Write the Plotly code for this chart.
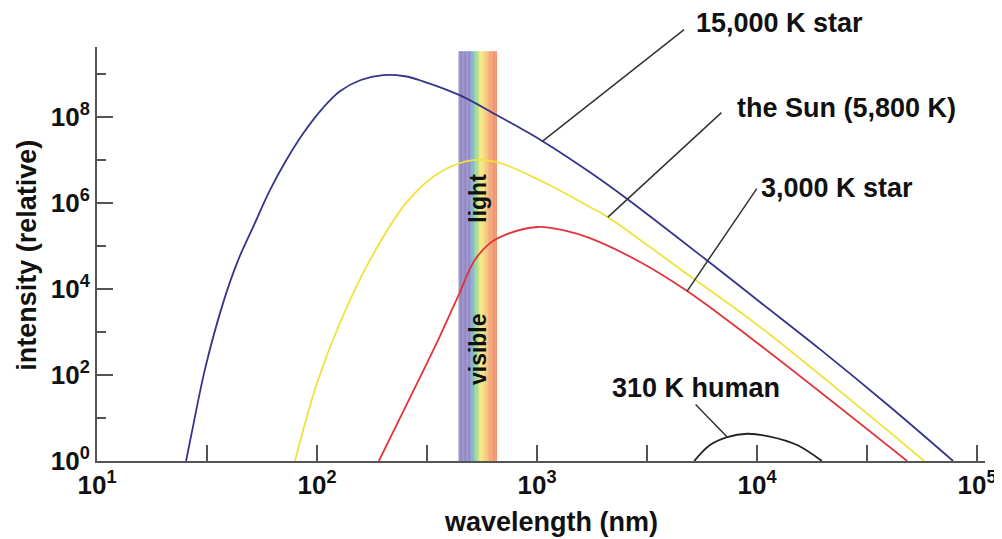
import math
import plotly.graph_objects as go

# ---------------- data ----------------
wl_15000 = [25.4, 27.3, 31, 37.4, 43.8, 51.2, 61.1, 73.1, 86.3, 106, 127, 157, 200, 251, 303, 447, 658,
            1060, 1740, 2560, 5930, 10300, 19300, 39800, 77800]
I_15000 = [1.0, 6.3, 141, 4.7e3, 4.7e4, 2.75e5, 2.0e6, 1.07e7, 4.1e7, 1.6e8, 4.0e8, 7.2e8, 9.5e8, 8.9e8,
           6.8e8, 3.2e8, 1.1e8, 2.75e7, 5.2e6, 1.26e6, 4.6e4, 5.0e3, 400, 19, 1.0]

wl_sun = [79.4, 100, 127, 174, 256, 362, 512, 658, 1030, 1740, 2100, 4950, 10300, 57500]
I_sun = [1.0, 65, 1.62e3, 4.7e4, 1.05e6, 5.2e6, 1.0e7, 8.9e6, 3.4e6, 8.1e5, 4.7e5, 2.0e4, 1.32e3, 1.0]

wl_3000 = [191, 256, 362, 442, 518, 611, 731, 1000, 1370, 1740, 2940, 4810, 10300, 48100]
I_3000 = [1.0, 21, 807, 7.65e3, 4.48e4, 1.17e5, 1.9e5, 2.77e5, 2.23e5, 1.53e5, 4.26e4, 8.97e3, 499, 1.0]

wl_human = [5180, 6110, 7310, 9020, 11450, 15200, 19700]
I_human = [1.0, 2.35, 3.6, 4.3, 3.7, 2.35, 1.0]

series_names = ["15,000 K star", "the Sun (5,800 K)", "3,000 K star", "310 K human"]

x_major_vals = [10, 1e2, 1e3, 1e4, 1e5]
x_major_text = ["<b>10<sup>%d</sup></b>" % p for p in (1, 2, 3, 4, 5)]
x_minor_vals = [10 ** 1.5, 10 ** 2.5, 10 ** 3.5, 10 ** 4.5]
y_major_vals = [1, 1e2, 1e4, 1e6, 1e8]
y_major_text = ["<b>10<sup>%d</sup></b>" % p for p in (0, 2, 4, 6, 8)]
y_minor_vals = [10, 1e3, 1e5, 1e7, 1e9]

band_edges_nm = [440, 658]
band_top = 3.4e9
band_stops = [
    (0.00, (136, 124, 188)),
    (0.26, (138, 128, 194)),
    (0.33, (122, 148, 210)),
    (0.41, (122, 198, 176)),
    (0.49, (166, 218, 124)),
    (0.58, (246, 234, 116)),
    (0.70, (248, 198, 116)),
    (0.84, (242, 152, 100)),
    (1.00, (238, 126, 86)),
]

# ---------------- styling ----------------
FONT = "Liberation Sans"
AX = "#555555"
TXT = "#111111"
colors = ["#34358a", "#f0e23a", "#e2333a", "#222222"]

fig = go.Figure()


def band_color(f):
    for (f0, c0), (f1, c1) in zip(band_stops[:-1], band_stops[1:]):
        if f0 <= f <= f1:
            t = 0 if f1 == f0 else (f - f0) / (f1 - f0)
            return "rgb(%d,%d,%d)" % tuple(round(a + (b - a) * t) for a, b in zip(c0, c1))
    return "rgb(%d,%d,%d)" % band_stops[-1][1]


# visible-light band as thin strips
lo, hi = math.log10(band_edges_nm[0]), math.log10(band_edges_nm[1])
N = 48
for i in range(N):
    a = lo + (hi - lo) * i / N
    b = lo + (hi - lo) * (i + 1) / N + (0.0005 if i < N - 1 else 0)
    fig.add_shape(type="rect", xref="x", yref="y", x0=10 ** a, x1=10 ** b, y0=1, y1=band_top,
                  fillcolor=band_color((i + 0.5) / N), line=dict(width=0), layer="below")

for (wl, I), c in zip([(wl_15000, I_15000), (wl_sun, I_sun), (wl_3000, I_3000), (wl_human, I_human)],
                      colors):
    fig.add_trace(go.Scatter(x=wl, y=I, mode="lines",
                             line=dict(color=c, width=1.8, shape="spline", smoothing=1.0),
                             showlegend=False, hoverinfo="skip"))

# band text
band_mid = (lo + hi) / 2
for txt, yv in [("light", 6.12), ("visible", 2.6)]:
    fig.add_annotation(x=band_mid, y=yv, xref="x", yref="y", text="<b>%s</b>" % txt, textangle=-90,
                       showarrow=False, font=dict(family=FONT, size=23, color=TXT))

# leader lines from a point of each curve to its label (pixel offsets; not clipped by the plot area)
leaders = [
    (wl_15000, I_15000, 1060, 142, -112),
    (wl_sun, I_sun, 2100, 114, -105),
    (wl_3000, I_3000, 4810, 70, -103),
    (wl_human, I_human, 7310, -32, -33),
]
for wl, I, at, dx, dy in leaders:
    k = wl.index(at)
    fig.add_annotation(x=math.log10(wl[k]), y=math.log10(I[k]), xref="x", yref="y", text="",
                       showarrow=True, arrowhead=0, arrowwidth=1.5, arrowcolor="#333333",
                       standoff=0, startstandoff=0, ax=dx, ay=dy, borderpad=0)

# labels (paper coords)
label_pos = [(0.672, 1.058), (0.7185, 0.8527), (0.7455, 0.6594), (0.578, 0.1763)]
for name, (px, py) in zip(series_names, label_pos):
    fig.add_annotation(x=px, y=py, xref="paper", yref="paper", text="<b>%s</b>" % name,
                       showarrow=False, xanchor="left", yanchor="middle",
                       font=dict(family=FONT, size=27, color=TXT))

# axis titles
fig.add_annotation(x=0.511, y=-0.147, xref="paper", yref="paper", text="<b>wavelength (nm)</b>",
                   showarrow=False, xanchor="center", yanchor="middle",
                   font=dict(family=FONT, size=27, color=TXT))
fig.add_annotation(x=-0.079, y=0.4976, xref="paper", yref="paper", text="<b>intensity (relative)</b>",
                   showarrow=False, xanchor="center", yanchor="middle", textangle=-90,
                   font=dict(family=FONT, size=27, color=TXT))

fig.update_xaxes(type="log", range=[1, 5.036], tickmode="array", tickvals=x_major_vals,
                 ticktext=x_major_text, ticks="inside", ticklen=16, tickwidth=2, tickcolor=AX,
                 minor=dict(tickmode="array", tickvals=x_minor_vals, ticks="inside", ticklen=16,
                            tickwidth=2, tickcolor=AX, showgrid=False),
                 showline=True, linecolor=AX, linewidth=2, showgrid=False, zeroline=False,
                 automargin=False, tickfont=dict(family=FONT, size=26, color=TXT))
fig.update_yaxes(type="log", range=[0, 9.63], tickmode="array", tickvals=y_major_vals,
                 ticktext=y_major_text, ticks="inside", ticklen=16, tickwidth=2, tickcolor=AX,
                 minor=dict(tickmode="array", tickvals=y_minor_vals, ticks="inside", ticklen=9,
                            tickwidth=2, tickcolor=AX, showgrid=False),
                 showline=True, linecolor=AX, linewidth=2, showgrid=False, zeroline=False,
                 automargin=False, tickfont=dict(family=FONT, size=26, color=TXT))

# the page adds an 8px body margin, so the plot area is placed 8px up/left of its target
fig.update_layout(width=1002, height=539, margin=dict(l=89, r=25, t=39, b=86),
                  plot_bgcolor="white", paper_bgcolor="white", showlegend=False)

fig.write_html("out.html")
